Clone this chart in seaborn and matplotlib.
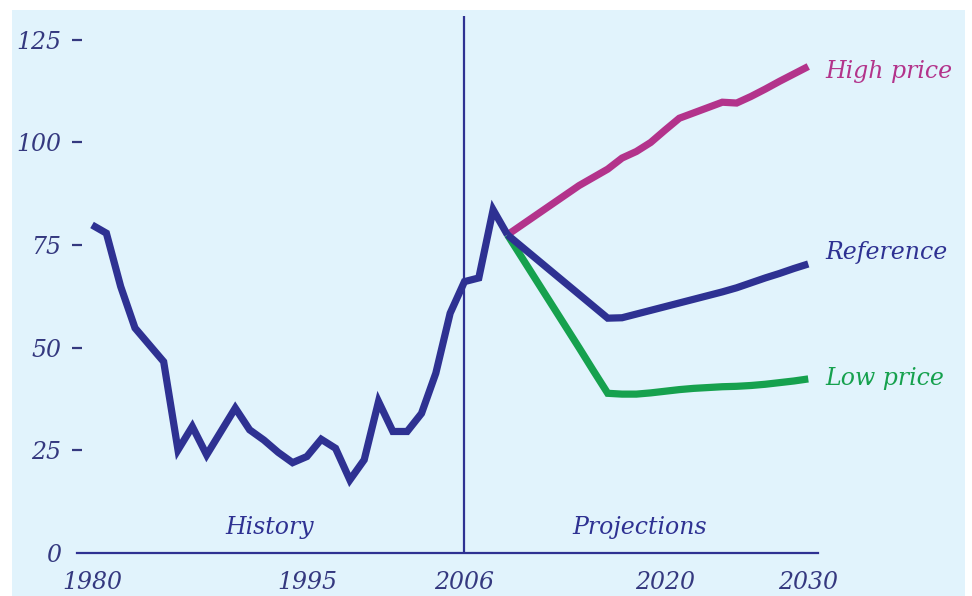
import matplotlib
matplotlib.use("Agg")
import matplotlib.pyplot as plt
import seaborn as sns
from matplotlib.patches import Rectangle

# history: 1980-2009
hist_years = list(range(1980, 2010))
hist_price = [79.9, 77.9, 64.9, 54.8, 50.7, 46.6, 25.1, 30.8, 23.9, 29.6,
              35.3, 30.0, 27.5, 24.5, 22.0, 23.5, 27.7, 25.5, 17.8, 22.7,
              36.9, 29.6, 29.6, 34.0, 43.8, 58.4, 66.1, 67.0, 83.6, 77.5]

# projections: 2009-2030
proj_years = list(range(2009, 2031))
ref_price = [77.5, 74.6, 71.7, 68.8, 65.9, 63.0, 60.1, 57.2, 57.3, 58.2, 59.1,
             60.0, 60.9, 61.8, 62.7, 63.6, 64.6, 65.8, 67.0, 68.1, 69.3, 70.4]
low_price = [77.5, 72.0, 66.5, 61.0, 55.5, 50.0, 44.4, 38.9, 38.7, 38.7, 39.0,
             39.4, 39.8, 40.1, 40.3, 40.5, 40.6, 40.8, 41.1, 41.5, 41.9, 42.4]
high_price = [77.5, 79.9, 82.3, 84.7, 87.1, 89.5, 91.5, 93.5, 96.2, 97.8, 100.0,
              103.0, 105.9, 107.2, 108.5, 109.8, 109.6, 111.2, 113.0, 114.9, 116.7, 118.5]

y_ticks = [0, 25, 50, 75, 100, 125]
x_ticks = [1980, 1995, 2006, 2020, 2030]

NAVY = "#2e3192"
MAGENTA = "#b3338b"
GREEN = "#16a14e"
BG = "#e1f3fc"
TXT = "#34387f"
FS = 17

sns.set_style("white")
plt.rcParams["font.family"] = ["DejaVu Serif"]
plt.rcParams["font.style"] = "italic"

fig = plt.figure(figsize=(9.72, 5.96), dpi=100, facecolor="white")
# light blue panel behind everything
fig.patches.append(Rectangle((12 / 972, 0), (965 - 12) / 972, (596 - 10) / 596,
                             transform=fig.transFigure, facecolor=BG,
                             edgecolor="none", zorder=-10))
ax = fig.add_axes([77 / 972, 43 / 596, 741 / 972, 537 / 596])
ax.patch.set_alpha(0)

lw = 5.2
sns.lineplot(x=proj_years, y=high_price, color=MAGENTA, lw=lw, ax=ax)
sns.lineplot(x=proj_years, y=low_price, color=GREEN, lw=lw, ax=ax)
sns.lineplot(x=proj_years, y=ref_price, color=NAVY, lw=lw, ax=ax)
sns.lineplot(x=hist_years, y=hist_price, color=NAVY, lw=lw, ax=ax)
for ln in ax.lines:
    ln.set_solid_joinstyle("miter")
    ln.set_solid_capstyle("butt")

ax.axvline(2006, color=NAVY, lw=1.6, zorder=1)

ax.set_xlim(1978.95, 2030.68)
ax.set_ylim(0, 130.8)

for s in ["top", "right", "left"]:
    ax.spines[s].set_visible(False)
ax.spines["bottom"].set_color(NAVY)
ax.spines["bottom"].set_linewidth(1.6)

ax.set_yticks(y_ticks)
ax.set_yticklabels([str(v) for v in y_ticks], fontsize=FS, color=TXT, style="italic")
ax.set_xticks(x_ticks)
ax.set_xticklabels([str(v) for v in x_ticks], fontsize=FS, color=TXT, style="italic")
ax.tick_params(axis="y", left=True, direction="inout", length=7, width=1.6,
               color=TXT, pad=8)
ax.tick_params(axis="x", bottom=False, length=0, pad=13)
ax.yaxis.get_major_ticks()[0].tick1line.set_visible(False)

ax.text(1992.4, 6.3, "History", fontsize=FS, color=NAVY, ha="center", va="center", style="italic")
ax.text(2018.2, 6.3, "Projections", fontsize=FS, color=NAVY, ha="center", va="center", style="italic")
ax.text(2031.2, 117.2, "High price", fontsize=FS, color=MAGENTA, ha="left", va="center",
        style="italic", clip_on=False)
ax.text(2031.2, 73.1, "Reference", fontsize=FS, color=NAVY, ha="left", va="center",
        style="italic", clip_on=False)
ax.text(2031.2, 42.6, "Low price", fontsize=FS, color=GREEN, ha="left", va="center",
        style="italic", clip_on=False)

ax.set_xlabel("")
ax.set_ylabel("")

fig.savefig("out.png", dpi=100, facecolor=fig.get_facecolor())
